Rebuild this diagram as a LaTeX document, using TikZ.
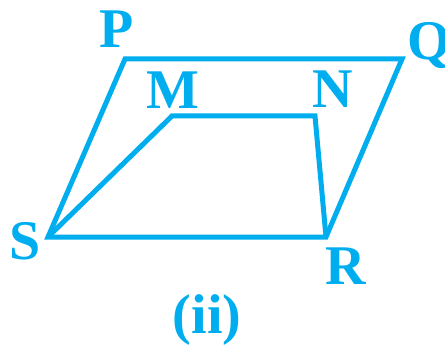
\documentclass[tikz,border=0pt]{standalone}
\usepackage{fontspec}
\setmainfont{Liberation Serif}
\usepackage{tikz}
\usetikzlibrary{positioning}
\definecolor{NCyan}{RGB}{0,174,239}
\tikzset{
  edge/.style={draw=NCyan, line width=5pt, line join=miter},
  vlabel/.style={text=NCyan, font=\fontsize{56}{64}\selectfont\bfseries, inner sep=0pt}
}
\begin{document}
\begin{tikzpicture}[x=1pt, y=-1pt]
\useasboundingbox (0,0) rectangle (445,353);
\coordinate (P) at (125,59);
\coordinate (Q) at (402,59);
\coordinate (R) at (326,237);
\coordinate (S) at (48,237);
\coordinate (M) at (172,116);
\coordinate (N) at (315,116);
\draw[edge] (P)--(Q)--(R)--(S)--cycle;
\draw[edge] (S)--(M)--(N)--(R);
\node[vlabel] (lP) at (117,29) {P};
\node[vlabel] (lQ) at (429,46) {Q};
\node[vlabel] (lM) at (173,90) {M};
\node[vlabel] (lN) at (333,89) {N};
\node[vlabel] (lS) at (25,241) {S};
\node[vlabel] (lR) at (346,266) {R};
\node[vlabel] (cap) at (207,320) {(ii)};
\end{tikzpicture}
\end{document}
